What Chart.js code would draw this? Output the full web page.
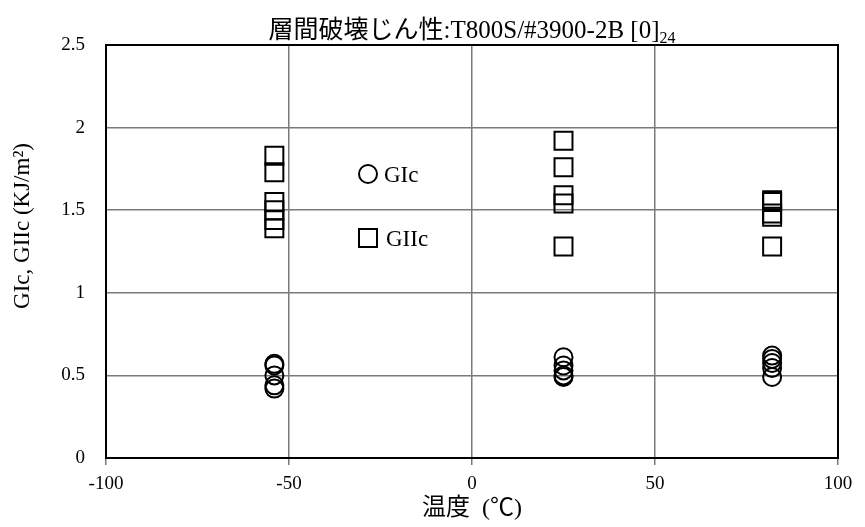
<!DOCTYPE html>
<html>
<head>
<meta charset="utf-8">
<script src="https://cdn.jsdelivr.net/npm/chart.js@4.4.0/dist/chart.umd.min.js"></script>
<style>
  html, body { margin: 0; padding: 0; background: #fff; }
  #wrap { width: 865px; height: 527px; }
</style>
</head>
<body>
<div id="wrap"><canvas id="chart"></canvas></div>
<script>
// temperatures (°C) and toughness values (KJ/m2)
const gicTemps   = [-54, -54, -54, -54, -54, 25, 25, 25, 25, 25, 82, 82, 82, 82, 82];
const gicValues  = [0.57, 0.56, 0.50, 0.44, 0.42, 0.61, 0.56, 0.53, 0.50, 0.49, 0.62, 0.60, 0.575, 0.545, 0.49];
const giicTemps  = [-54, -54, -54, -54, -54, -54, 25, 25, 25, 25, 25, 82, 82, 82, 82, 82];
const giicValues = [1.83, 1.73, 1.55, 1.50, 1.44, 1.39, 1.92, 1.76, 1.59, 1.54, 1.28, 1.56, 1.55, 1.48, 1.46, 1.28];

const seriesNames = ['GIc', 'GIIc'];
const xTickLabels = ['-100', '-50', '0', '50', '100'];
const yTickLabels = ['0', '0.5', '1', '1.5', '2', '2.5'];

const SERIF = "'Liberation Serif', 'Times New Roman', 'Noto Sans CJK JP', serif";
const toPoints = (xs, ys) => xs.map((x, i) => ({ x, y: ys[i] }));

// title with subscript, y-axis title, plot frame and in-plot legend
const decorations = {
  id: 'decorations',
  beforeDatasetsDraw(chart) {
    const { ctx, chartArea: a } = chart;
    ctx.save();
    ctx.strokeStyle = '#000';
    ctx.lineWidth = 2;
    ctx.strokeRect(a.left, a.top, a.right - a.left, a.bottom - a.top);
    ctx.restore();
  },
  afterDraw(chart) {
    const { ctx, chartArea: a } = chart;
    ctx.save();
    ctx.fillStyle = '#000';

    // title
    const main = '層間破壊じん性:T800S/#3900-2B [0]';
    const sub = '24';
    ctx.font = '25px ' + SERIF;
    const wMain = ctx.measureText(main).width;
    ctx.font = '16px ' + SERIF;
    const wSub = ctx.measureText(sub).width;
    const x0 = (a.left + a.right) / 2 - (wMain + wSub) / 2;
    ctx.textBaseline = 'alphabetic';
    ctx.textAlign = 'left';
    ctx.font = '25px ' + SERIF;
    ctx.fillText(main, x0, 38);
    ctx.font = '16px ' + SERIF;
    ctx.fillText(sub, x0 + wMain, 43);

    // y-axis title
    ctx.save();
    ctx.translate(23, 226);
    ctx.rotate(-Math.PI / 2);
    ctx.font = '23px ' + SERIF;
    ctx.textAlign = 'center';
    ctx.textBaseline = 'middle';
    ctx.fillText('GIc, GIIc (KJ/m²)', 0, 0);
    ctx.restore();

    // legend
    const lx = a.left + 262;
    ctx.strokeStyle = '#000';
    ctx.lineWidth = 2;
    ctx.beginPath();
    ctx.arc(lx, a.top + 129, 9, 0, Math.PI * 2);
    ctx.stroke();
    ctx.strokeRect(lx - 9, a.top + 184, 18, 18);
    ctx.font = '23px ' + SERIF;
    ctx.textAlign = 'left';
    ctx.textBaseline = 'middle';
    ctx.fillText(seriesNames[0], lx + 16, a.top + 131);
    ctx.fillText(seriesNames[1], lx + 18, a.top + 195);
    ctx.restore();
  }
};

new Chart(document.getElementById('chart'), {
  type: 'scatter',
  data: {
    datasets: [
      {
        label: seriesNames[0],
        data: toPoints(gicTemps, gicValues),
        pointStyle: 'circle',
        pointRadius: 9,
        pointHoverRadius: 9,
        borderColor: '#000',
        backgroundColor: 'rgba(0,0,0,0)',
        borderWidth: 2,
      },
      {
        label: seriesNames[1],
        data: toPoints(giicTemps, giicValues),
        pointStyle: 'rect',
        pointRadius: 12.7,
        pointHoverRadius: 12.7,
        borderColor: '#000',
        backgroundColor: 'rgba(0,0,0,0)',
        borderWidth: 2,
      },
    ],
  },
  options: {
    responsive: true,
    maintainAspectRatio: false,
    animation: false,
    layout: { padding: { top: 45, right: 27, left: 0, bottom: 0 } },
    plugins: {
      legend: { display: false },
      tooltip: { enabled: false },
    },
    scales: {
      x: {
        type: 'linear',
        min: -100,
        max: 100,
        afterFit: s => { s.height = 69; },
        afterBuildTicks: s => { s.ticks = xTickLabels.map(v => ({ value: Number(v) })); },
        grid: { color: '#7a7a7a', lineWidth: 1.5, tickLength: 7, tickColor: '#7a7a7a' },
        border: { color: '#000', width: 2 },
        ticks: {
          color: '#000',
          padding: 8,
          maxRotation: 0,
          font: { family: SERIF, size: 19 },
          callback: (v, i) => xTickLabels[i],
        },
        title: {
          display: true,
          text: '温度  (℃)',
          color: '#000',
          font: { family: SERIF, size: 24 },
          padding: { top: 0, bottom: 4 },
        },
      },
      y: {
        type: 'linear',
        min: 0,
        max: 2.5,
        afterFit: s => { s.width = 106; },
        afterBuildTicks: s => { s.ticks = yTickLabels.map(v => ({ value: Number(v) })); },
        grid: { color: '#7a7a7a', lineWidth: 1.5, drawTicks: false },
        border: { color: '#000', width: 2 },
        ticks: {
          color: '#000',
          padding: 21,
          font: { family: SERIF, size: 19 },
          callback: (v, i) => yTickLabels[i],
        },
      },
    },
  },
  plugins: [decorations],
});
</script>
</body>
</html>
